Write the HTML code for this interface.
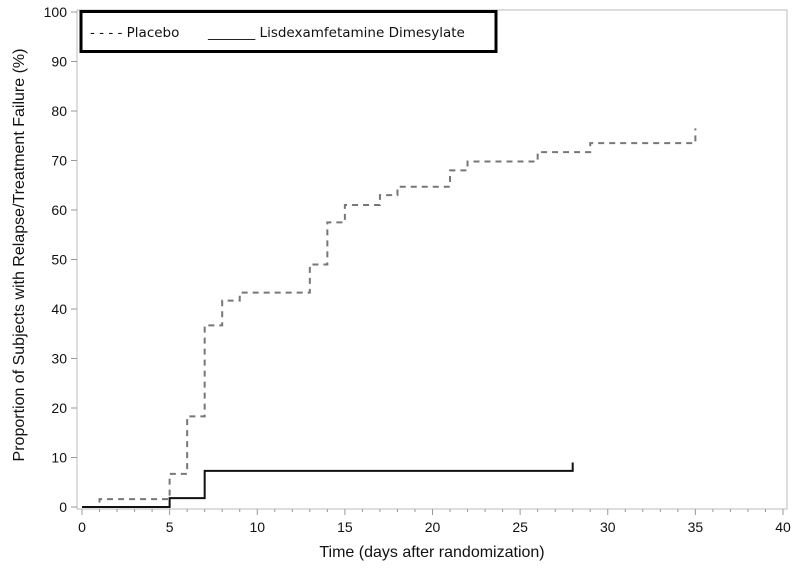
<!DOCTYPE html>
<html><head><meta charset="utf-8"><style>
body{margin:0;background:#fff;}
svg{display:block;font-family:"Liberation Sans",sans-serif;}
</style></head><body>
<svg id="chart" width="799" height="568"></svg>
<script>
const xTicks=[0,5,10,15,20,25,30,35,40];
const yTicks=[0,10,20,30,40,50,60,70,80,90,100];
const placeboTimes=[0,1,5,6,7,8,9,13,14,15,17,18,21,22,26,29,35];
const placeboValues=[0,1.6,6.7,18.3,36.7,41.7,43.3,49,57.5,61,63,64.7,68,69.8,71.7,73.5,73.5];
const placeboCensor=[35,76.5];
const ldxTimes=[0,5,7,28];
const ldxValues=[0,1.8,7.3,7.3];
const ldxCensor=[28,9];

const NS="http://www.w3.org/2000/svg";
const svg=document.getElementById('chart');
const X=v=>82+v*(783-82)/40;
const Y=v=>507-v*(507-12)/100;
function mk(t,a,p){const e=document.createElementNS(NS,t);for(const k in a)e.setAttribute(k,a[k]);(p||svg).appendChild(e);return e;}

const frame=mk('rect',{x:77,y:10,width:710,height:499,fill:'none',stroke:'#bbb','stroke-width':1});



const xa=mk('g',{});


for(let d=0;d<=40;d++){mk('line',{x1:X(d),x2:X(d),y1:509,y2:d%5==0?515:512,stroke:'#999'},xa);}
xTicks.forEach(t=>{const e=mk('text',{x:X(t),y:532,'text-anchor':'middle','font-size':14,fill:'#111'},xa);e.textContent=t;

});
const xt=mk('text',{x:432,y:557,'text-anchor':'middle','font-size':16,fill:'#111'});
xt.textContent='Time (days after randomization)';



const ya=mk('g',{});


yTicks.forEach(t=>{mk('line',{x1:71,x2:77,y1:Y(t),y2:Y(t),stroke:'#999'},ya);
const e=mk('text',{x:67,y:Y(t)+5,'text-anchor':'end','font-size':14,fill:'#111'},ya);e.textContent=t;

});
const yt=mk('text',{x:0,y:0,transform:'translate(24,255) rotate(-90)','text-anchor':'middle','font-size':16,fill:'#111'});
yt.textContent='Proportion of Subjects with Relapse/Treatment Failure (%)';



function stepPath(ts,vs){let d='M'+X(ts[0])+','+Y(vs[0]);for(let i=1;i<ts.length;i++){d+=' H'+X(ts[i])+' V'+Y(vs[i]);}return d;}
const pl=mk('path',{d:stepPath(placeboTimes,placeboValues)+' V'+Y(placeboCensor[1]),fill:'none',stroke:'#777','stroke-width':2,'stroke-dasharray':'6,5'});


const ld=mk('path',{d:stepPath(ldxTimes,ldxValues)+' V'+Y(ldxCensor[1]),fill:'none',stroke:'#111','stroke-width':2});



const lg=mk('g',{});


mk('rect',{x:81,y:11.5,width:415,height:40,fill:'#fff',stroke:'#000','stroke-width':3},lg);
const l1=mk('text',{x:90,y:37,'font-size':13.5,fill:'#111','font-family':'"DejaVu Sans",sans-serif'},lg);l1.textContent='- - - - Placebo';


const l2=mk('text',{x:208,y:37,'font-size':13.5,fill:'#111','font-family':'"DejaVu Sans",sans-serif'},lg);l2.textContent='_______ Lisdexamfetamine Dimesylate';


</script>
</body></html>
